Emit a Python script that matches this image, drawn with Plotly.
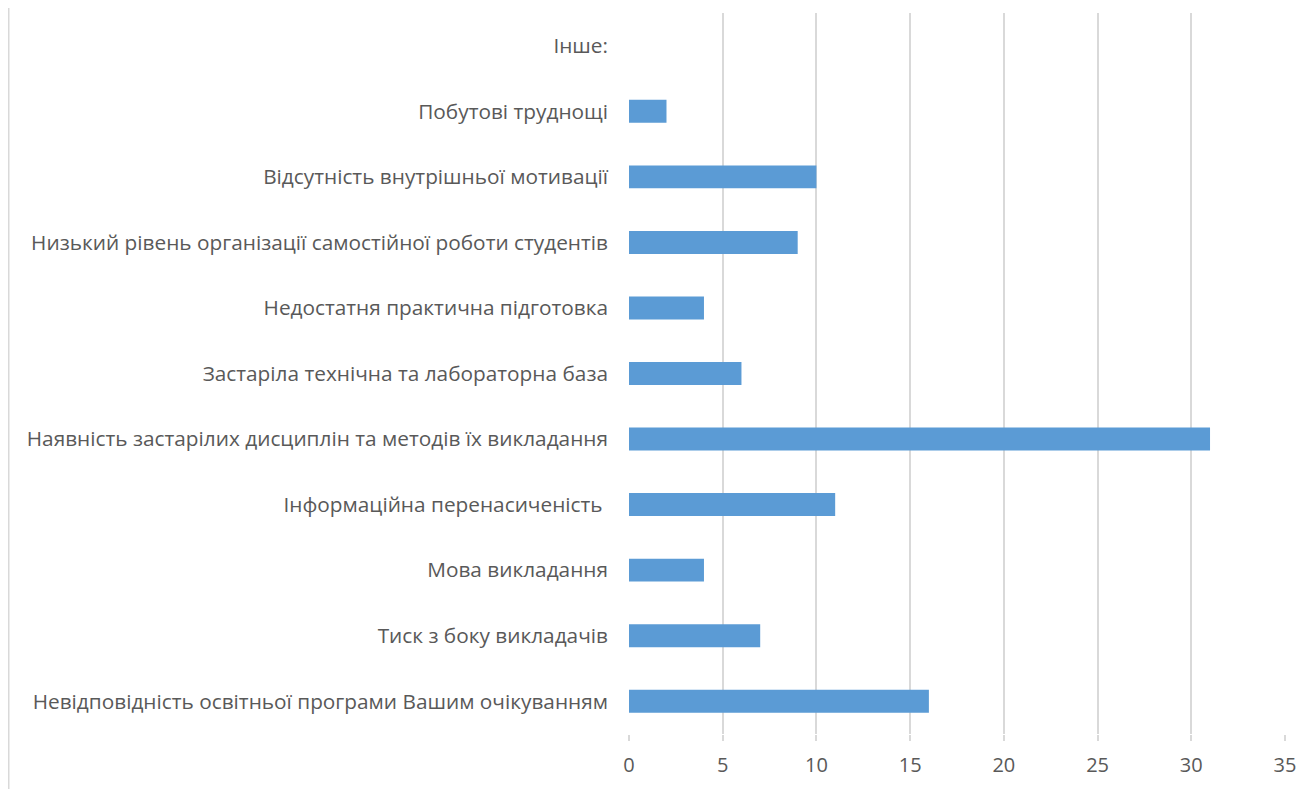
import plotly.graph_objects as go

categories = [
    "Невідповідність освітньої програми Вашим очікуванням",
    "Тиск з боку викладачів",
    "Мова викладання",
    "Інформаційна перенасиченість ",
    "Наявність застарілих дисциплін та методів їх викладання",
    "Застаріла технічна та лабораторна база",
    "Недостатня практична підготовка",
    "Низький рівень організації самостійної роботи студентів",
    "Відсутність внутрішньої мотивації",
    "Побутові труднощі",
    "Інше:",
]
values = [16, 7, 4, 11, 31, 6, 4, 9, 10, 2, 0]
x_ticks = [0, 5, 10, 15, 20, 25, 30, 35]

W, H = 1316, 789
L, R, T, B = 621, 39, 5, 63
plot_w = W - L - R
plot_h = H - T - B

fig = go.Figure(go.Bar(
    y=categories, x=values, orientation="h",
    marker=dict(color="#5b9bd5", line=dict(width=0)),
    width=0.35,
))

yfont = dict(family="Open Sans, Noto Sans, sans-serif", size=20.8, color="#595959")
xfont = dict(family="Open Sans, Noto Sans, sans-serif", size=20, color="#595959")

fig.update_layout(
    width=W, height=H,
    margin=dict(l=L, r=R, t=T, b=B, pad=0),
    plot_bgcolor="white", paper_bgcolor="white",
    font=yfont,
    showlegend=False,
    xaxis=dict(
        range=[0, 35], tickvals=x_ticks, ticktext=[str(v) for v in x_ticks],
        showgrid=True, gridcolor="#d9d9d9", gridwidth=1.5,
        zeroline=False, showline=False,
        ticks="outside", ticklen=6, tickcolor="#d9d9d9", tickwidth=1.5,
        ticklabelstandoff=7, tickfont=xfont,
    ),
    yaxis=dict(
        categoryorder="array", categoryarray=categories,
        showgrid=False, zeroline=False, showline=False,
        ticks="", ticklabelstandoff=20, tickfont=yfont, automargin=False,
    ),
    shapes=[dict(
        type="line", xref="paper", yref="paper",
        x0=(0.5 - L) / plot_w, x1=(0.5 - L) / plot_w,
        y0=-B / plot_h, y1=1 + (T + 10) / plot_h,
        line=dict(color="#d9d9d9", width=2),
    )],
)

fig.write_html("out.html")
